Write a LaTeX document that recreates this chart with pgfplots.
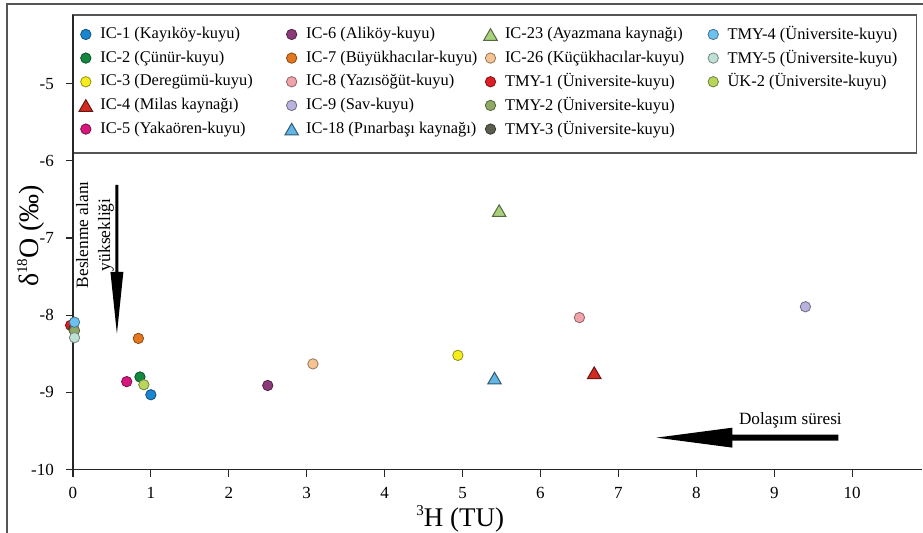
\documentclass[border=0pt]{standalone}
\usepackage{fontspec}
\setmainfont{Liberation Serif}
\usepackage{pgfplots}
\pgfplotsset{compat=1.18}

\definecolor{cIC1}{HTML}{1B86D0}
\definecolor{cIC2}{HTML}{13883E}
\definecolor{cIC3}{HTML}{F6EE1C}
\definecolor{cIC4}{HTML}{D32A22}
\definecolor{cIC5}{HTML}{D6177C}
\definecolor{cIC6}{HTML}{8A3A78}
\definecolor{cIC7}{HTML}{E3781F}
\definecolor{cIC8}{HTML}{F1A3AA}
\definecolor{cIC9}{HTML}{B9B2DC}
\definecolor{cIC18}{HTML}{62B5E5}
\definecolor{cIC23}{HTML}{A9D17C}
\definecolor{cIC26}{HTML}{F5C492}
\definecolor{cTMY1}{HTML}{DC1F26}
\definecolor{cTMY2}{HTML}{8FA863}
\definecolor{cTMY3}{HTML}{5A5E4E}
\definecolor{cTMY4}{HTML}{6CC1EE}
\definecolor{cTMY5}{HTML}{BFE0D6}
\definecolor{cUK2}{HTML}{B8D65C}
\definecolor{frame}{HTML}{555555}

\pgfplotsset{
  dot/.style={only marks, mark=*, mark size=2.6pt, fill=#1, draw=#1!60!black, line width=0.4pt,
    legend image code/.code={\path (-4pt,0pt) (7pt,0pt); \draw[##1] plot coordinates {(0pt,0pt)};}},
  tri/.style={only marks, mark=triangle*, mark size=3.9pt, fill=#1, draw=#1!50!black, line width=0.5pt,
    legend image code/.code={\path (-4pt,0pt) (7pt,0pt); \draw[##1] plot coordinates {(0pt,-1pt)};}},
}
\newcommand\lc[2]{\makebox[#1][l]{#2}}

\begin{document}
\begin{tikzpicture}
\begin{scope}[x=0.5pt,y=0.5pt]
\useasboundingbox (0,0) rectangle (923,531);
\draw[frame,line width=1pt] (7,-5) -- (7,527) -- (930,527);
\draw[frame,line width=0.8pt] (73,378) rectangle (917,516);
\end{scope}

\begin{axis}[
  at={(36.5pt,30.5pt)}, anchor=south west,
  scale only axis, width=425pt, height=227.5pt,
  xmin=0, xmax=10.9, ymin=-10, ymax=-4.11,
  axis lines=left, axis line style={-, black!85, line width=0.7pt},
  xtick={0,...,10}, ytick={-10,...,-5},
  tick align=outside, major tick length=3.5pt,
  tick style={black!85, line width=0.6pt},
  ticklabel style={font=\fontsize{8.5}{10}\selectfont},
  xticklabel style={yshift=-2pt},
  yticklabel style={xshift=-2.5pt},
  /pgf/number format/assume math mode=true,
  clip=false,
  xlabel={\raisebox{0.9ex}{\fontsize{7.5}{8}\selectfont 3}H (TU)},
  ylabel={δ\raisebox{0.9ex}{\fontsize{7.5}{8}\selectfont 18}O (‰)},
  xlabel style={at={(axis description cs:0.456,-0.108)}, anchor=center, inner sep=0pt, font=\fontsize{13.5}{15}\selectfont},
  ylabel style={at={(axis description cs:-0.0494,0.514)}, anchor=center, inner sep=0pt, rotate=0, font=\fontsize{14}{16}\selectfont},
  legend columns=4, legend cell align=left,
  legend style={at={(0.0047,0.976)}, anchor=north west, draw=none, fill=none,
    inner sep=0pt, column sep=0pt, row sep=3.7pt,
    font=\fontsize{8.2}{10}\selectfont, nodes={inner sep=0pt}},
]
% data, drawn in visual stacking order
\addplot[dot=cIC1, forget plot] coordinates {(1.00,-9.03)};
\addplot[dot=cIC2, forget plot] coordinates {(0.86,-8.80)};
\addplot[dot=cUK2, forget plot] coordinates {(0.91,-8.90)};
\addplot[dot=cIC5, forget plot] coordinates {(0.69,-8.86)};
\addplot[dot=cIC7, forget plot] coordinates {(0.84,-8.30)};
\addplot[dot=cIC6, forget plot] coordinates {(2.50,-8.91)};
\addplot[dot=cIC26, forget plot] coordinates {(3.08,-8.63)};
\addplot[dot=cIC3, forget plot] coordinates {(4.94,-8.52)};
\addplot[tri=cIC18, forget plot] coordinates {(5.41,-8.84)};
\addplot[tri=cIC23, forget plot] coordinates {(5.47,-6.67)};
\addplot[dot=cIC8, forget plot] coordinates {(6.50,-8.03)};
\addplot[tri=cIC4, forget plot] coordinates {(6.69,-8.77)};
\addplot[dot=cIC9, forget plot] coordinates {(9.40,-7.89)};
\addplot[dot=cTMY1, forget plot] coordinates {(-0.03,-8.13)};
\addplot[dot=cTMY3, forget plot] coordinates {(0.01,-8.18)};
\addplot[dot=cTMY2, forget plot] coordinates {(0.02,-8.20)};
\addplot[dot=cTMY5, forget plot] coordinates {(0.02,-8.29)};
\addplot[dot=cTMY4, forget plot] coordinates {(0.02,-8.09)};

% legend, row by row
\addlegendimage{dot=cIC1}\addlegendentry{\lc{91.5pt}{IC-1 (Kayıköy-kuyu)}}
\addlegendimage{dot=cIC6}\addlegendentry{\lc{88pt}{IC-6 (Aliköy-kuyu)}}
\addlegendimage{tri=cIC23}\addlegendentry{\lc{100pt}{IC-23 (Ayazmana kaynağı)}}
\addlegendimage{dot=cTMY4}\addlegendentry{TMY-4 (Üniversite-kuyu)}
\addlegendimage{dot=cIC2}\addlegendentry{\lc{91.5pt}{IC-2 (Çünür-kuyu)}}
\addlegendimage{dot=cIC7}\addlegendentry{\lc{88pt}{IC-7 (Büyükhacılar-kuyu)}}
\addlegendimage{dot=cIC26}\addlegendentry{\lc{100pt}{IC-26 (Küçükhacılar-kuyu)}}
\addlegendimage{dot=cTMY5}\addlegendentry{TMY-5 (Üniversite-kuyu)}
\addlegendimage{dot=cIC3}\addlegendentry{\lc{91.5pt}{IC-3 (Deregümü-kuyu)}}
\addlegendimage{dot=cIC8}\addlegendentry{\lc{88pt}{IC-8 (Yazısöğüt-kuyu)}}
\addlegendimage{dot=cTMY1}\addlegendentry{\lc{100pt}{TMY-1 (Üniversite-kuyu)}}
\addlegendimage{dot=cUK2}\addlegendentry{ÜK-2 (Üniversite-kuyu)}
\addlegendimage{tri=cIC4}\addlegendentry{\lc{91.5pt}{IC-4 (Milas kaynağı)}}
\addlegendimage{dot=cIC9}\addlegendentry{\lc{88pt}{IC-9 (Sav-kuyu)}}
\addlegendimage{dot=cTMY2}\addlegendentry{\lc{100pt}{TMY-2 (Üniversite-kuyu)}}
\addlegendimage{empty legend}\addlegendentry{}
\addlegendimage{dot=cIC5}\addlegendentry{\lc{91.5pt}{IC-5 (Yakaören-kuyu)}}
\addlegendimage{tri=cIC18}\addlegendentry{\lc{88pt}{IC-18 (Pınarbaşı kaynağı)}}
\addlegendimage{dot=cTMY3}\addlegendentry{\lc{100pt}{TMY-3 (Üniversite-kuyu)}}
\end{axis}

\begin{scope}[x=0.5pt,y=0.5pt]
% recharge-elevation arrow and label
\fill[black] (115.5,346) -- (118.5,346) -- (118.5,259) -- (123.5,259) -- (117,197) -- (110.5,259) -- (115.5,259) -- cycle;
\node[rotate=90, align=center, font=\fontsize{8.7}{11}\selectfont, inner sep=0pt] at (95,296) {Beslenme alanı\\yüksekliği};
% residence-time arrow and label
\fill[black] (839,96) -- (733,96) -- (733,103) -- (657,93) -- (733,83) -- (733,90) -- (839,90) -- cycle;
\node[font=\fontsize{8.6}{10}\selectfont, inner sep=0pt] at (791,110) {Dolaşım süresi};
\end{scope}
\end{tikzpicture}
\end{document}
